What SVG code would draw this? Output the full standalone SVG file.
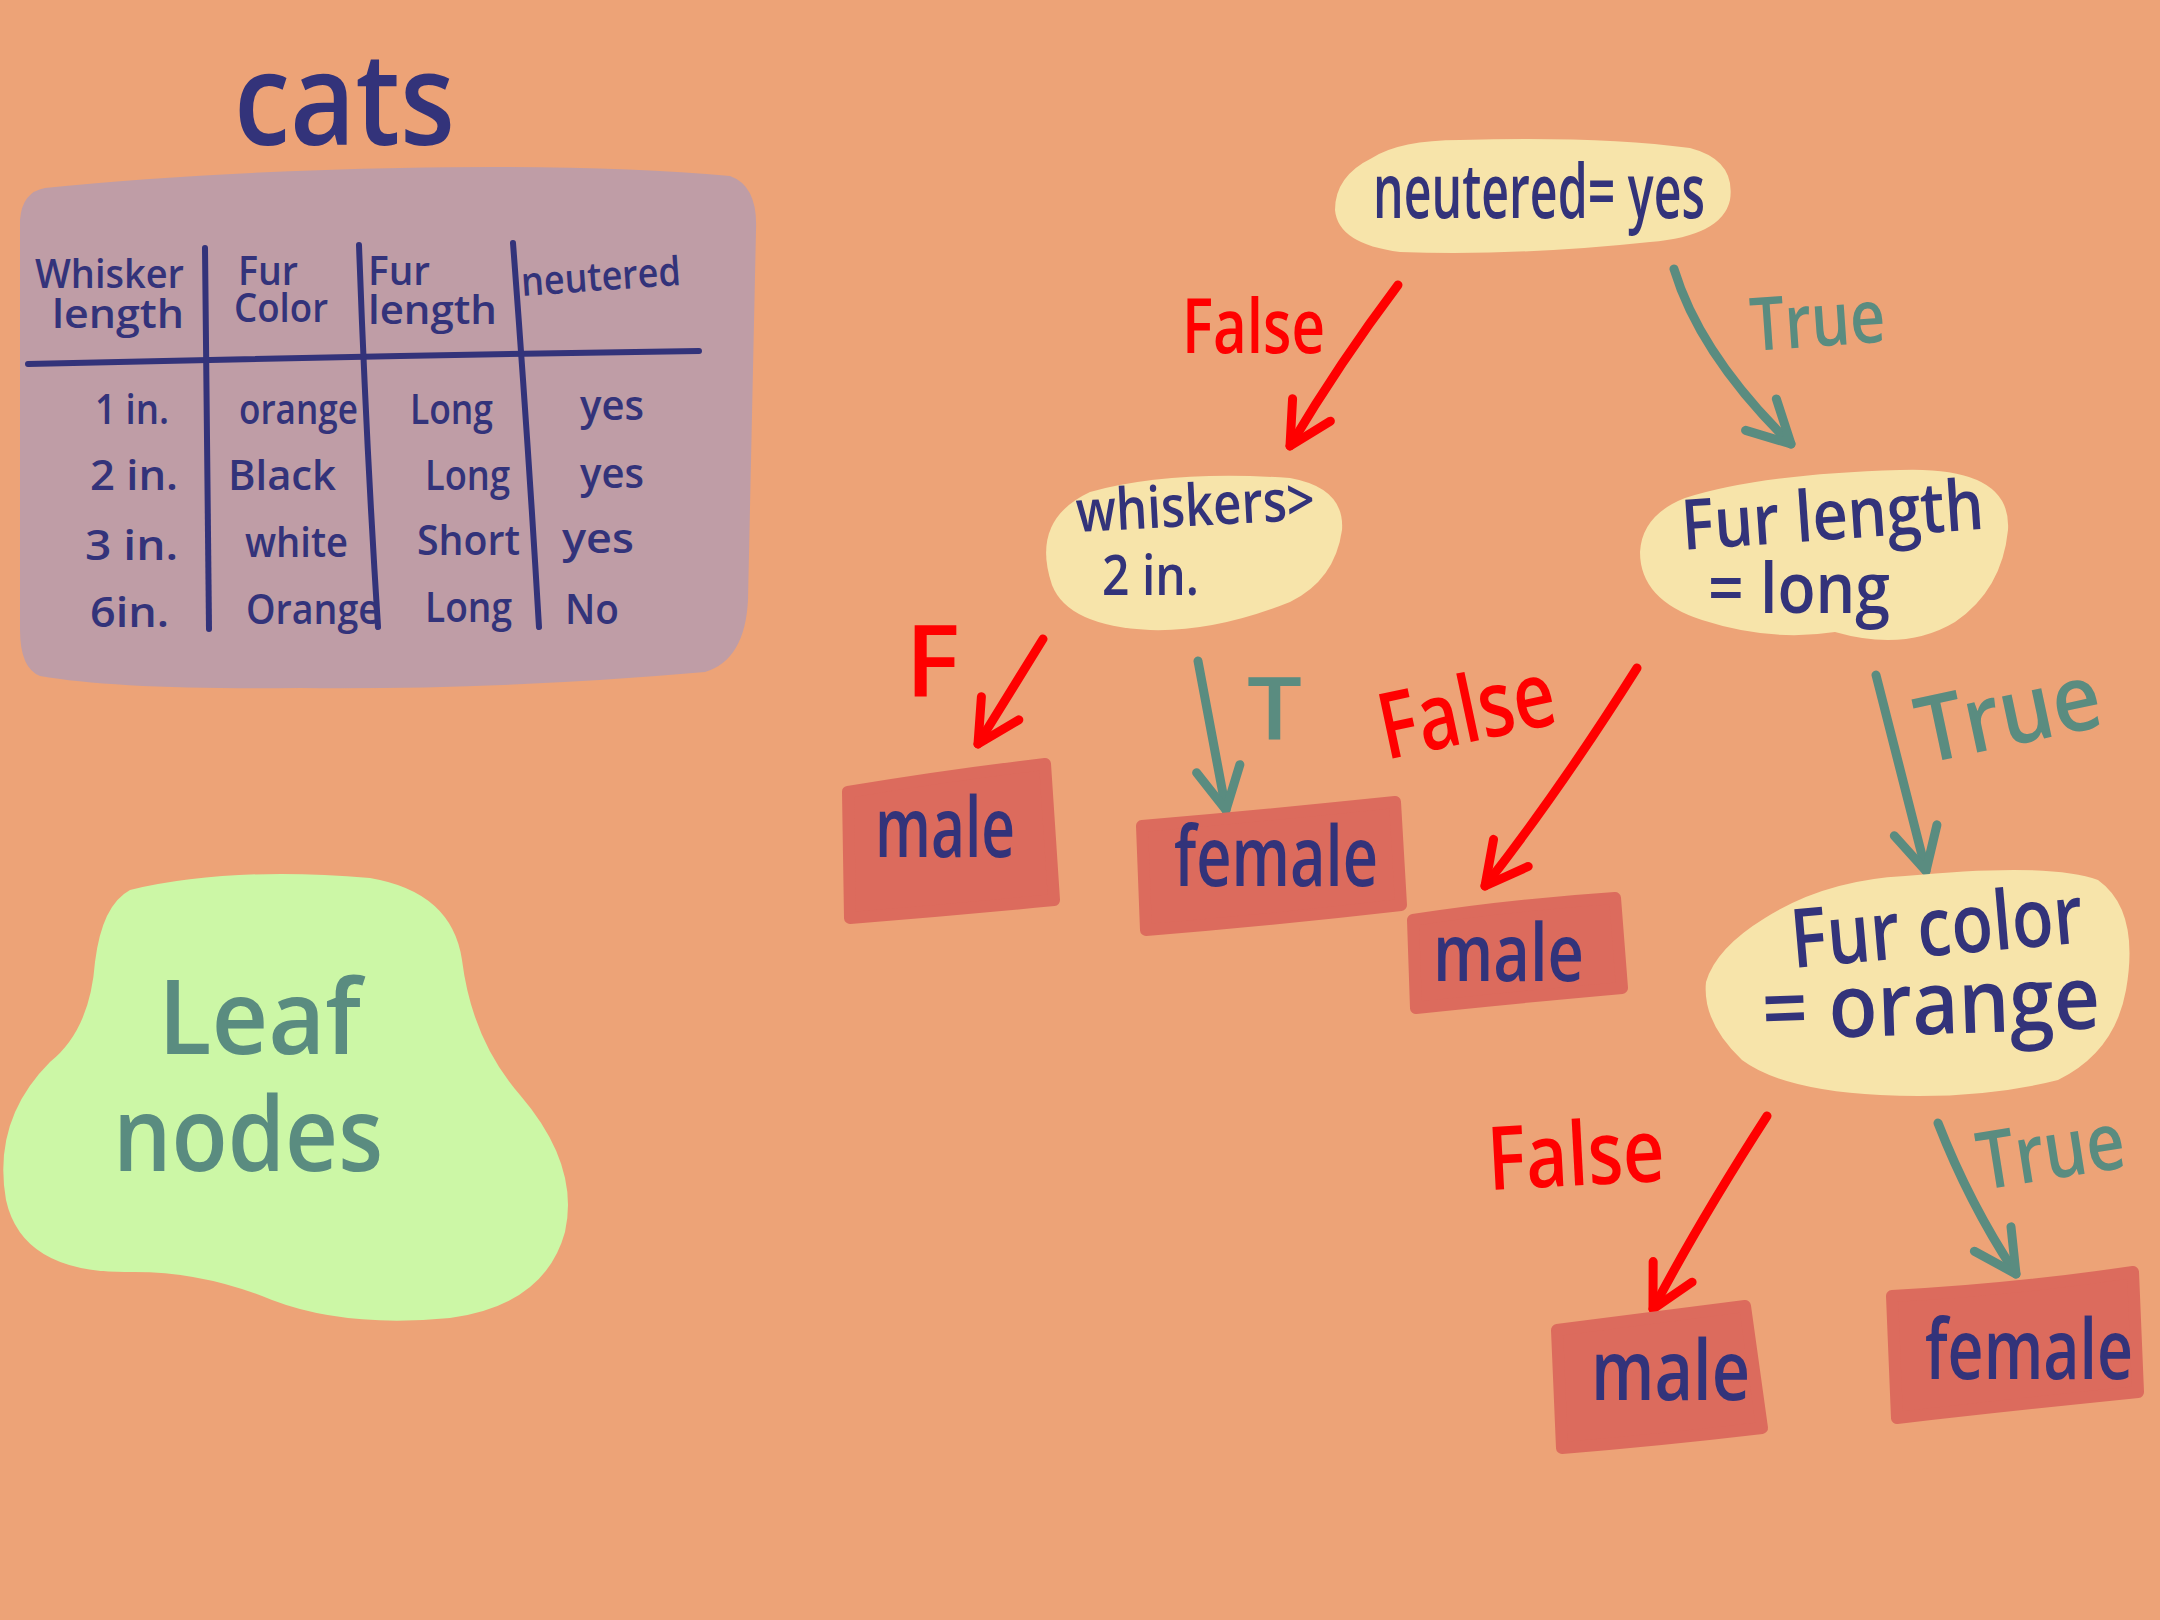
<svg xmlns="http://www.w3.org/2000/svg" width="2160" height="1620" viewBox="0 0 2160 1620">
<defs>
<style>
.ink{font-family:"Open Sans","Liberation Sans",sans-serif;font-weight:600;fill:#33337A}
.red{font-family:"Open Sans","Liberation Sans",sans-serif;font-weight:600;fill:#FF0000}
.teal{font-family:"Open Sans","Liberation Sans",sans-serif;font-weight:600;fill:#5A8C80}
.cell{font-size:42px}
.hd{font-size:40px}
.cond{fill:#F7E4AA}
.leaf{fill:#DC6B5D;stroke:#DC6B5D;stroke-width:12;stroke-linejoin:round}
.rl{fill:none;stroke:#FF0000;stroke-width:9;stroke-linecap:round}
.tl{fill:none;stroke:#5A8C80;stroke-width:9;stroke-linecap:round}
.grid{fill:none;stroke:#33337A;stroke-width:6;stroke-linecap:round}
</style>
<marker id="ahr" viewBox="-50 -30 60 60" refX="0" refY="0" markerWidth="60" markerHeight="60" markerUnits="userSpaceOnUse" orient="auto">
<path d="M -42 -22 L 0 0 L -42 22" fill="none" stroke="#FF0000" stroke-width="9" stroke-linecap="round" stroke-linejoin="round"/>
</marker>
<marker id="aht" viewBox="-50 -30 60 60" refX="0" refY="0" markerWidth="60" markerHeight="60" markerUnits="userSpaceOnUse" orient="auto">
<path d="M -42 -22 L 0 0 L -42 22" fill="none" stroke="#5A8C80" stroke-width="9" stroke-linecap="round" stroke-linejoin="round"/>
</marker>
</defs>
<rect x="0" y="0" width="2160" height="1620" fill="#EDA377"/>

<g id="title">
<text class="ink" x="234" y="145" font-size="128" textLength="221" lengthAdjust="spacingAndGlyphs">cats</text>
</g>

<g id="table">
<path d="M 45 188 Q 200 172 400 168 Q 600 164 730 176 Q 758 186 756 230 L 748 600 Q 745 660 705 672 Q 500 690 300 688 Q 120 690 40 676 Q 20 668 20 630 L 20 220 Q 22 192 45 188 Z" fill="#BF9DA6"/>
<path class="grid" d="M 28 364 Q 360 356 699 351"/>
<path class="grid" d="M 205 248 Q 207 440 209 629"/>
<path class="grid" d="M 359 245 Q 366 440 378 627"/>
<path class="grid" d="M 513 243 Q 528 440 539 627"/>
<text class="ink hd" x="35" y="288" textLength="149" lengthAdjust="spacingAndGlyphs">Whisker</text>
<text class="ink hd" x="52" y="328" textLength="132" lengthAdjust="spacingAndGlyphs">length</text>
<text class="ink hd" x="238" y="285" textLength="60" lengthAdjust="spacingAndGlyphs">Fur</text>
<text class="ink hd" x="234" y="322" textLength="94" lengthAdjust="spacingAndGlyphs">Color</text>
<text class="ink hd" x="368" y="285" textLength="62" lengthAdjust="spacingAndGlyphs">Fur</text>
<text class="ink hd" x="368" y="324" textLength="129" lengthAdjust="spacingAndGlyphs">length</text>
<text class="ink hd" x="522" y="296" textLength="160" lengthAdjust="spacingAndGlyphs" transform="rotate(-4 522 296)">neutered</text>
<text class="ink cell" x="95" y="424" textLength="74" lengthAdjust="spacingAndGlyphs">1 in.</text>
<text class="ink cell" x="239" y="424" textLength="119" lengthAdjust="spacingAndGlyphs">orange</text>
<text class="ink cell" x="410" y="424" textLength="83" lengthAdjust="spacingAndGlyphs">Long</text>
<text class="ink cell" x="580" y="420" textLength="64" lengthAdjust="spacingAndGlyphs">yes</text>
<text class="ink cell" x="90" y="490" textLength="88" lengthAdjust="spacingAndGlyphs">2 in.</text>
<text class="ink cell" x="228" y="490" textLength="108" lengthAdjust="spacingAndGlyphs">Black</text>
<text class="ink cell" x="425" y="490" textLength="85" lengthAdjust="spacingAndGlyphs">Long</text>
<text class="ink cell" x="580" y="488" textLength="64" lengthAdjust="spacingAndGlyphs">yes</text>
<text class="ink cell" x="85" y="560" textLength="93" lengthAdjust="spacingAndGlyphs">3 in.</text>
<text class="ink cell" x="245" y="557" textLength="103" lengthAdjust="spacingAndGlyphs">white</text>
<text class="ink cell" x="417" y="555" textLength="103" lengthAdjust="spacingAndGlyphs">Short</text>
<text class="ink cell" x="562" y="553" textLength="72" lengthAdjust="spacingAndGlyphs">yes</text>
<text class="ink cell" x="90" y="627" textLength="79" lengthAdjust="spacingAndGlyphs">6in.</text>
<text class="ink cell" x="246" y="624" textLength="134" lengthAdjust="spacingAndGlyphs">Orange</text>
<text class="ink cell" x="425" y="622" textLength="87" lengthAdjust="spacingAndGlyphs">Long</text>
<text class="ink cell" x="565" y="624" textLength="54" lengthAdjust="spacingAndGlyphs">No</text>
</g>

<g id="legend-leaf-nodes">
<path d="M 130 890 Q 230 866 370 878 Q 452 892 462 960 Q 472 1040 520 1095 Q 580 1165 565 1232 Q 545 1305 450 1318 Q 345 1328 272 1300 Q 200 1270 125 1272 Q 22 1272 6 1200 Q -8 1120 50 1062 Q 90 1030 95 962 Q 102 905 130 890 Z" fill="#CCF7A6"/>
<text class="teal" x="158" y="1054" font-size="104" textLength="203" lengthAdjust="spacingAndGlyphs">Leaf</text>
<text class="teal" x="113" y="1171" font-size="104" textLength="270" lengthAdjust="spacingAndGlyphs">nodes</text>
</g>

<g id="connectors">
<path class="rl" d="M 1398 285 Q 1340 362 1290 446" marker-end="url(#ahr)"/>
<path class="tl" d="M 1674 269 Q 1700 355 1791 444" marker-end="url(#aht)"/>
<path class="rl" d="M 1043 639 L 978 744" marker-end="url(#ahr)"/>
<path class="tl" d="M 1198 661 L 1226 810" marker-end="url(#aht)"/>
<path class="rl" d="M 1637 668 Q 1560 790 1485 886" marker-end="url(#ahr)"/>
<path class="tl" d="M 1876 675 L 1926 871" marker-end="url(#aht)"/>
<path class="rl" d="M 1767 1116 Q 1700 1220 1653 1309" marker-end="url(#ahr)"/>
<path class="tl" d="M 1938 1123 Q 1970 1205 2016 1274" marker-end="url(#aht)"/>
<text class="red" x="1182" y="353" font-size="76" textLength="143" lengthAdjust="spacingAndGlyphs">False</text>
<text class="teal" x="1752" y="351" font-size="74" textLength="135" lengthAdjust="spacingAndGlyphs" transform="rotate(-4 1752 351)">True</text>
<text class="red" x="905" y="696" font-size="100" font-weight="700" textLength="55" lengthAdjust="spacingAndGlyphs">F</text>
<text class="teal" x="1247" y="740" font-size="86" textLength="55" lengthAdjust="spacingAndGlyphs">T</text>
<text class="red" x="1386" y="760" font-size="92" textLength="178" lengthAdjust="spacingAndGlyphs" transform="rotate(-12 1386 760)">False</text>
<text class="teal" x="1924" y="764" font-size="92" textLength="186" lengthAdjust="spacingAndGlyphs" transform="rotate(-12 1924 764)">True</text>
<text class="red" x="1489" y="1190" font-size="88" textLength="177" lengthAdjust="spacingAndGlyphs" transform="rotate(-3 1489 1190)">False</text>
<text class="teal" x="1982" y="1190" font-size="80" textLength="148" lengthAdjust="spacingAndGlyphs" transform="rotate(-9 1982 1190)">True</text>
</g>

<g id="node-neutered">
<path class="cond" d="M 1372 158 Q 1400 140 1460 140 Q 1600 136 1690 148 Q 1736 160 1730 200 Q 1722 236 1650 242 Q 1520 256 1400 252 Q 1338 244 1335 210 Q 1335 176 1372 158 Z"/>
<text class="ink" x="1373" y="218" font-size="76" textLength="332" lengthAdjust="spacingAndGlyphs">neutered= yes</text>
</g>

<g id="node-whiskers">
<path class="cond" d="M 1090 492 Q 1170 470 1290 478 Q 1345 488 1342 530 Q 1335 580 1290 602 Q 1215 632 1150 630 Q 1068 626 1052 585 Q 1030 520 1090 492 Z"/>
<text class="ink" x="1077" y="532" font-size="58" textLength="239" lengthAdjust="spacingAndGlyphs" transform="rotate(-3 1077 532)">whiskers&gt;</text>
<text class="ink" x="1102" y="595" font-size="56" textLength="97" lengthAdjust="spacingAndGlyphs">2 in.</text>
</g>

<g id="node-fur-length">
<path class="cond" d="M 1685 498 Q 1760 474 1900 470 Q 2012 466 2008 530 Q 2002 590 1955 622 Q 1905 652 1835 632 Q 1770 642 1702 620 Q 1640 600 1640 552 Q 1642 515 1685 498 Z"/>
<text class="ink" x="1683" y="550" font-size="70" textLength="303" lengthAdjust="spacingAndGlyphs" transform="rotate(-4 1683 550)">Fur length</text>
<text class="ink" x="1708" y="613" font-size="70" textLength="182" lengthAdjust="spacingAndGlyphs">= long</text>
</g>

<g id="node-fur-color">
<path class="cond" d="M 1765 918 Q 1825 880 1905 876 Q 2050 862 2098 880 Q 2140 910 2126 990 Q 2115 1052 2058 1080 Q 1980 1100 1880 1095 Q 1782 1090 1742 1060 Q 1702 1022 1706 982 Q 1716 948 1765 918 Z"/>
<text class="ink" x="1793" y="968" font-size="82" textLength="293" lengthAdjust="spacingAndGlyphs" transform="rotate(-5 1793 968)">Fur color</text>
<text class="ink" x="1763" y="1040" font-size="88" textLength="338" lengthAdjust="spacingAndGlyphs" transform="rotate(-2 1763 1040)">= orange</text>
</g>

<g id="leaf-male-1">
<path class="leaf" d="M 848 792 Q 950 775 1045 764 L 1054 900 Q 950 910 850 918 Z"/>
<text class="ink" x="875" y="857" font-size="84" textLength="140" lengthAdjust="spacingAndGlyphs">male</text>
</g>

<g id="leaf-female-1">
<path class="leaf" d="M 1142 826 Q 1270 815 1395 802 L 1401 905 Q 1270 920 1146 930 Z"/>
<text class="ink" x="1174" y="886" font-size="84" textLength="204" lengthAdjust="spacingAndGlyphs">female</text>
</g>

<g id="leaf-male-2">
<path class="leaf" d="M 1413 920 Q 1510 905 1615 898 L 1622 988 Q 1510 998 1416 1008 Z"/>
<text class="ink" x="1433" y="981" font-size="80" textLength="151" lengthAdjust="spacingAndGlyphs">male</text>
</g>

<g id="leaf-male-3">
<path class="leaf" d="M 1557 1330 Q 1650 1318 1745 1306 L 1762 1428 Q 1660 1440 1562 1448 Z"/>
<text class="ink" x="1591" y="1400" font-size="84" textLength="159" lengthAdjust="spacingAndGlyphs">male</text>
</g>

<g id="leaf-female-3">
<path class="leaf" d="M 1892 1296 Q 2010 1290 2133 1272 L 2138 1392 Q 2010 1405 1897 1418 Z"/>
<text class="ink" x="1925" y="1379" font-size="84" textLength="208" lengthAdjust="spacingAndGlyphs">female</text>
</g>
</svg>
